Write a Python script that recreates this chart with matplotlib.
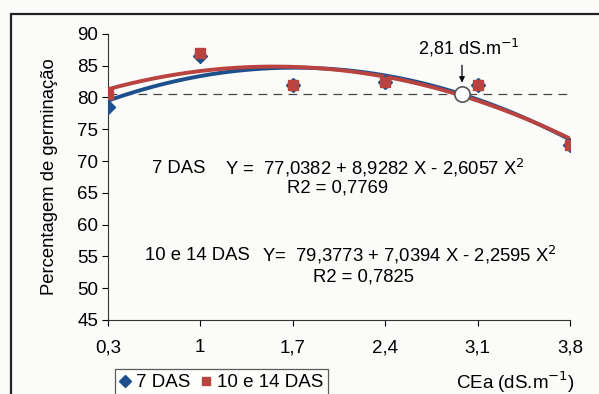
import numpy as np
import matplotlib
matplotlib.use("Agg")
import matplotlib.pyplot as plt
from matplotlib.patches import Rectangle

plt.rcParams['font.family'] = ['Liberation Sans', 'DejaVu Sans']

# condutividade elétrica da água (dS/m) e germinação (%)
cea = [0.3, 1.0, 1.7, 2.4, 3.1, 3.8]
germ_7das = [78.5, 86.5, 82.0, 82.5, 82.0, 72.5]
germ_10_14das = [80.5, 87.0, 82.0, 82.5, 82.0, 72.5]
tick_labels = ['0,3', '1', '1,7', '2,4', '3,1', '3,8']

# coeficientes das regressões quadráticas (a + bX + cX^2)
coef_7das = [77.0382, 8.9282, -2.6057]
coef_10_14das = [79.3773, 7.0394, -2.2595]
limiar = 80.5

azul = '#1d4f8c'
vermelho = '#b9443f'

fig = plt.figure(figsize=(5.99, 3.94), dpi=100)
fig.patch.set_facecolor('#fbfbfa')
ax = fig.add_axes([0.180, 0.188, 0.772, 0.726])
ax.set_facecolor('none')

xs = np.linspace(0.3, 3.8, 200)
y7 = coef_7das[0] + coef_7das[1] * xs + coef_7das[2] * xs ** 2
y10 = coef_10_14das[0] + coef_10_14das[1] * xs + coef_10_14das[2] * xs ** 2

ax.axhline(limiar, color='#444444', lw=0.9, ls=(0, (7, 5)), zorder=1)
ax.plot(xs, y7, color=azul, lw=2.8, zorder=2)
ax.plot(xs, y10, color=vermelho, lw=2.8, zorder=3)

ax.plot(cea, germ_7das, ls='none', marker='D', ms=7, color=azul, zorder=4, label='7 DAS')
ax.plot(cea, germ_10_14das, ls='none', marker='s', ms=7, color=vermelho, zorder=5, label='10 e 14 DAS')

# ponto onde a curva cruza o limiar
c = coef_7das
raizes = np.roots([c[2], c[1], c[0] - limiar])
x_corte = max(r.real for r in raizes if 0.3 <= r.real <= 3.8)
ax.plot(x_corte, limiar, marker='o', ms=11, mfc='white', mec='#555555', mew=1.2, zorder=6)
ax.annotate('', xy=(x_corte, limiar + 1.4), xytext=(x_corte, limiar + 5.0),
            arrowprops=dict(arrowstyle='-|>', color='black', lw=0.9, mutation_scale=8))
ax.text(x_corte + 0.05, 87.8, '2,81 dS.m$^{-1}$', ha='center', va='center', fontsize=13)

fs_eq = 13.3
ax.text(0.633, 68.9, '7 DAS', fontsize=fs_eq, va='center')
ax.text(1.186, 68.9, 'Y =  77,0382 + 8,9282 X - 2,6057 X$^2$', fontsize=fs_eq, va='center')
ax.text(1.656, 65.8, 'R2 = 0,7769', fontsize=fs_eq, va='center')
ax.text(0.58, 55.2, '10 e 14 DAS', fontsize=fs_eq, va='center')
ax.text(1.467, 55.2, 'Y=  79,3773 + 7,0394 X - 2,2595 X$^2$', fontsize=fs_eq, va='center')
ax.text(1.853, 51.8, 'R2 = 0,7825', fontsize=fs_eq, va='center')

ax.set_xlim(0.3, 3.8)
ax.set_ylim(45, 90)
ax.set_xticks(cea)
ax.set_xticklabels(tick_labels)
ax.set_yticks(range(45, 91, 5))
ax.tick_params(labelsize=13.5, length=4, width=0.8, direction='out', pad=10)
ax.tick_params(axis='y', pad=3)
for lado in ['top', 'right']:
    ax.spines[lado].set_visible(False)
for lado in ['left', 'bottom']:
    ax.spines[lado].set_color('#333333')

ax.set_ylabel('Percentagem de germinação', fontsize=13.3, labelpad=14)
fig.text(0.86, 0.03, 'CEa (dS.m$^{-1}$)', fontsize=13.5, ha='center', va='center')

leg = ax.legend(loc='upper left', bbox_to_anchor=(-0.005, -0.14), ncol=2, fontsize=13.5,
                frameon=True, fancybox=False, edgecolor='#333333', handlelength=0.6,
                handletextpad=0.3, columnspacing=0.5, borderpad=0.25, markerscale=0.85)
leg.get_frame().set_linewidth(0.9)

# moldura externa do gráfico
fig.patches.append(Rectangle((0.018, -0.05), 1.1, 1.015, transform=fig.transFigure,
                             fill=False, edgecolor='#222222', lw=1.6))

fig.savefig('out.png', dpi=100, facecolor=fig.get_facecolor())
